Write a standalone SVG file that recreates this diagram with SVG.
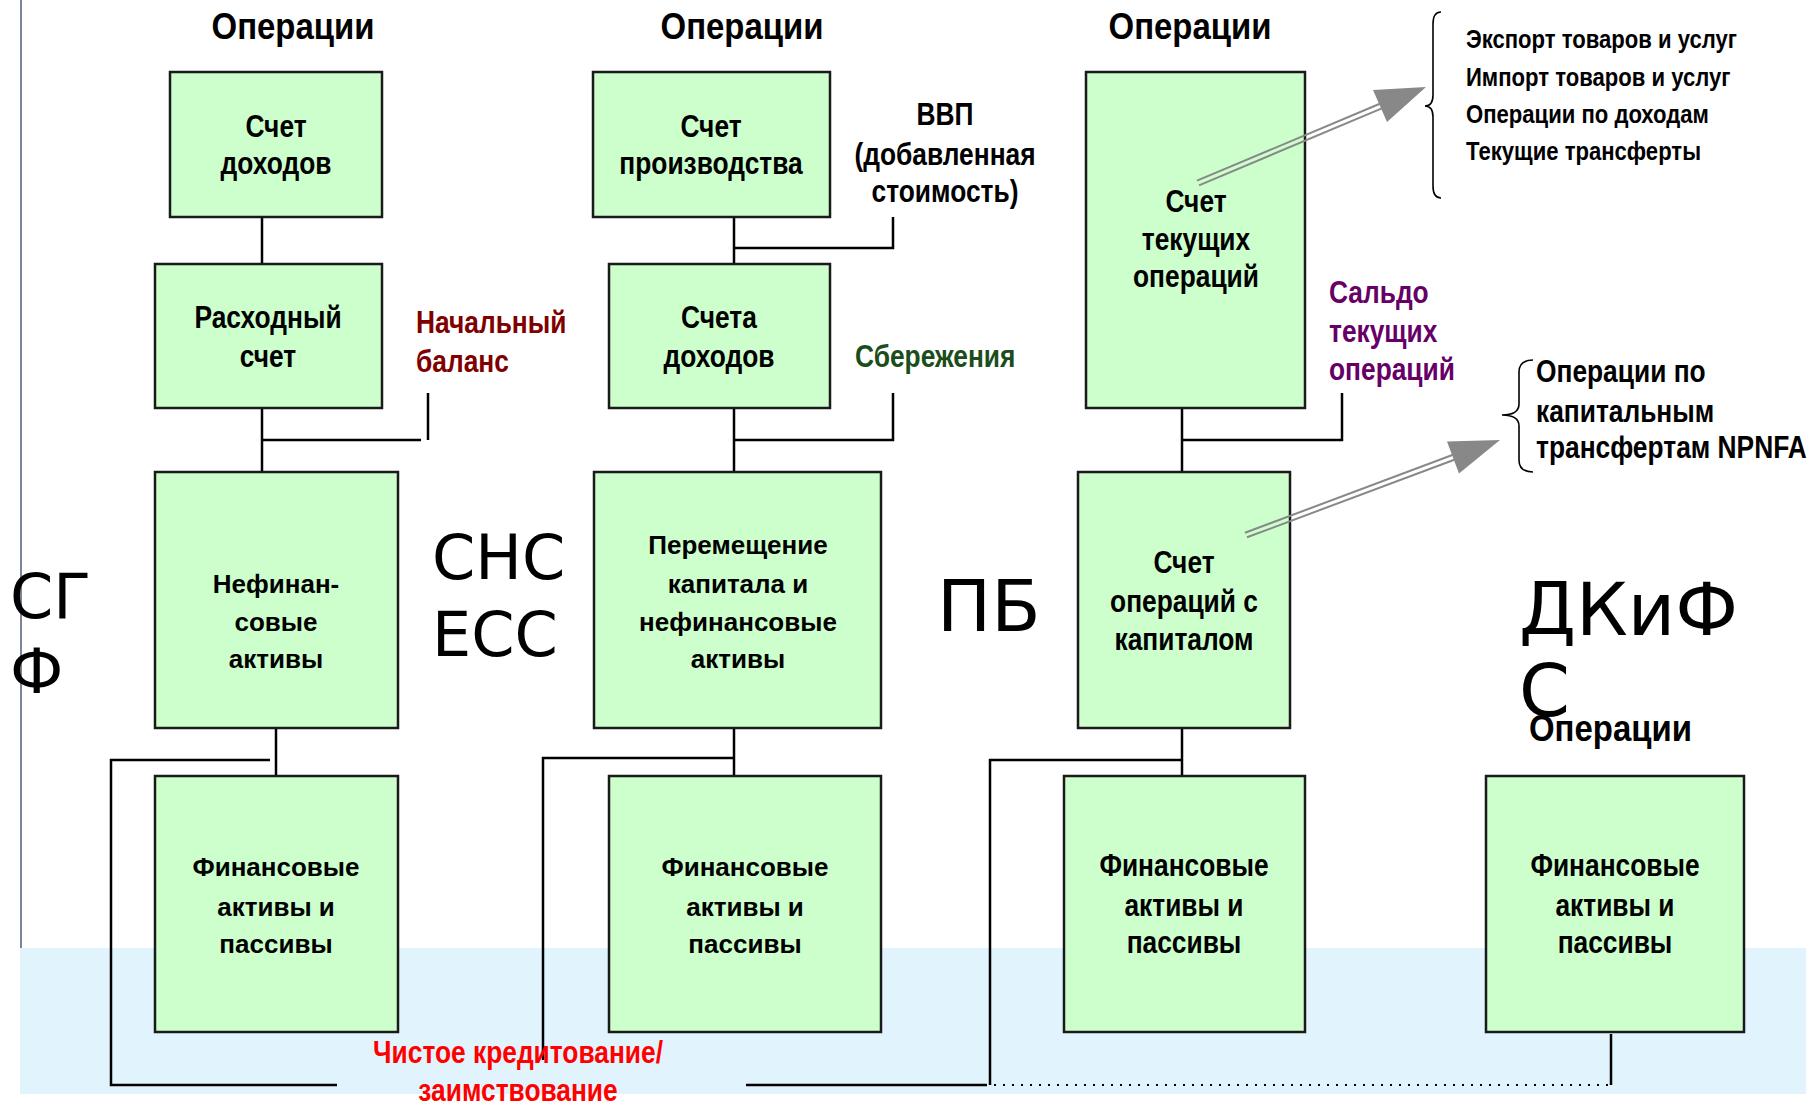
<svg xmlns="http://www.w3.org/2000/svg" width="1806" height="1102" viewBox="0 0 1806 1102">
<style>
.box{fill:#ccffcc;stroke:#1a1a1a;stroke-width:2.5}
.ln{fill:none;stroke:#000;stroke-width:2.5}
.dot{fill:none;stroke:#000;stroke-width:2;stroke-dasharray:2 7}
.n{font-family:"Liberation Sans",Arial,sans-serif;font-weight:bold}
.b{font-family:"Liberation Sans",Arial,sans-serif;font-weight:bold}
.big{font-family:"DejaVu Sans",Verdana,sans-serif}
.c{text-anchor:middle}
.title{font-size:37px}
.bt{font-size:31px}
.rt{font-size:26px}
.lab{font-size:31px}
.lst{font-size:26px}
.shaft{stroke:#888;stroke-width:2;fill:none}
.head{fill:#888}
.brace{fill:none;stroke:#000;stroke-width:1.6}
</style>
<rect x="0" y="0" width="1806" height="1102" fill="#fff"/>
<rect x="20" y="948" width="1786" height="146" fill="#e1f3fd"/>
<line x1="21" y1="0" x2="21" y2="948" stroke="#7a8596" stroke-width="2"/>

<g id="titles" class="n title">
<text class="c" transform="translate(293 39) scale(.89 1)">Операции</text>
<text class="c" transform="translate(742 39) scale(.89 1)">Операции</text>
<text class="c" transform="translate(1190 39) scale(.89 1)">Операции</text>
<text transform="translate(1529 741) scale(.89 1)">Операции</text>
</g>

<g id="system-labels" class="big">
<text x="10" y="618" font-size="62">СГ</text>
<text x="10" y="693" font-size="62">Ф</text>
<text x="432" y="579" font-size="62">СНС</text>
<text x="432" y="656" font-size="62">ЕСС</text>
<text x="937" y="631" font-size="72">ПБ</text>
<text x="1519" y="635" font-size="73">ДКиФ</text>
<text x="1519" y="716" font-size="73">С</text>
</g>

<g id="connectors">
<path class="ln" d="M262,217V264 M262,408V472 M262,440H421 M428,393V440 M276,728V776 M270,760H111V1085H337"/>
<path class="ln" d="M734,217V264 M893,217V248H734 M734,408V472 M734,440H893V393 M734,728V776 M734,758H543V1060 M746,1085H987"/>
<path class="ln" d="M1182,408V472 M1182,440H1342V393 M1182,728V776 M1182,760H990V1085 M1611,1034V1085"/>
<path class="dot" d="M994,1085H1608"/>
</g>

<g id="sgf-income"><rect class="box" x="170" y="72" width="212" height="145"/>
<text class="n bt c" transform="translate(276 137) scale(.85 1)">Счет</text><text class="n bt c" transform="translate(276 174) scale(.85 1)">доходов</text></g>
<g id="sgf-expense"><rect class="box" x="155" y="264" width="227" height="144"/>
<text class="n bt c" transform="translate(268 328) scale(.85 1)">Расходный</text><text class="n bt c" transform="translate(268 367) scale(.85 1)">счет</text></g>
<g id="sgf-nonfin"><rect class="box" x="155" y="472" width="243" height="256"/>
<text class="b rt c" x="276" y="593">Нефинан-</text><text class="b rt c" x="276" y="631">совые</text><text class="b rt c" x="276" y="668">активы</text></g>
<g id="sgf-fin"><rect class="box" x="155" y="776" width="243" height="256"/>
<text class="b rt c" x="276" y="876">Финансовые</text><text class="b rt c" x="276" y="916">активы и</text><text class="b rt c" x="276" y="953">пассивы</text></g>

<g id="sna-production"><rect class="box" x="593" y="72" width="237" height="145"/>
<text class="n bt c" transform="translate(711 137) scale(.85 1)">Счет</text><text class="n bt c" transform="translate(711 174) scale(.85 1)">производства</text></g>
<g id="sna-income"><rect class="box" x="609" y="264" width="221" height="144"/>
<text class="n bt c" transform="translate(719 328) scale(.85 1)">Счета</text><text class="n bt c" transform="translate(719 367) scale(.85 1)">доходов</text></g>
<g id="sna-capital"><rect class="box" x="594" y="472" width="287" height="256"/>
<text class="b rt c" x="738" y="554">Перемещение</text><text class="b rt c" x="738" y="593">капитала и</text><text class="b rt c" x="738" y="631">нефинансовые</text><text class="b rt c" x="738" y="668">активы</text></g>
<g id="sna-fin"><rect class="box" x="609" y="776" width="272" height="256"/>
<text class="b rt c" x="745" y="876">Финансовые</text><text class="b rt c" x="745" y="916">активы и</text><text class="b rt c" x="745" y="953">пассивы</text></g>

<g id="bop-current"><rect class="box" x="1086" y="72" width="219" height="336"/>
<text class="n bt c" transform="translate(1196 212) scale(.85 1)">Счет</text><text class="n bt c" transform="translate(1196 250) scale(.85 1)">текущих</text><text class="n bt c" transform="translate(1196 287) scale(.85 1)">операций</text></g>
<g id="bop-capital"><rect class="box" x="1078" y="472" width="212" height="256"/>
<text class="n bt c" transform="translate(1184 573) scale(.85 1)">Счет</text><text class="n bt c" transform="translate(1184 612) scale(.85 1)">операций с</text><text class="n bt c" transform="translate(1184 650) scale(.85 1)">капиталом</text></g>
<g id="bop-fin"><rect class="box" x="1064" y="776" width="241" height="256"/>
<text class="n bt c" transform="translate(1184 876) scale(.85 1)">Финансовые</text><text class="n bt c" transform="translate(1184 916) scale(.85 1)">активы и</text><text class="n bt c" transform="translate(1184 953) scale(.85 1)">пассивы</text></g>

<g id="mfs-fin"><rect class="box" x="1486" y="776" width="258" height="256"/>
<text class="n bt c" transform="translate(1615 876) scale(.85 1)">Финансовые</text><text class="n bt c" transform="translate(1615 916) scale(.85 1)">активы и</text><text class="n bt c" transform="translate(1615 953) scale(.85 1)">пассивы</text></g>

<g id="labels" class="n lab">
<text transform="translate(416 333) scale(.85 1)" fill="#800000">Начальный</text>
<text transform="translate(416 372) scale(.85 1)" fill="#800000">баланс</text>
<text class="c" transform="translate(945 125) scale(.85 1)">ВВП</text>
<text class="c" transform="translate(945 165) scale(.85 1)">(добавленная</text>
<text class="c" transform="translate(945 202) scale(.85 1)">стоимость)</text>
<text transform="translate(855 367) scale(.85 1)" fill="#1b4d1b">Сбережения</text>
<text transform="translate(1329 303) scale(.85 1)" fill="#660066">Сальдо</text>
<text transform="translate(1329 342) scale(.85 1)" fill="#660066">текущих</text>
<text transform="translate(1329 380) scale(.85 1)" fill="#660066">операций</text>
<text transform="translate(1536 382) scale(.85 1)">Операции по</text>
<text transform="translate(1536 422) scale(.85 1)">капитальным</text>
<text transform="translate(1536 458) scale(.85 1)">трансфертам NPNFA</text>
<text class="c" transform="translate(518 1063) scale(.85 1)" fill="#ff0000">Чистое кредитование/</text>
<text class="c" transform="translate(518 1101) scale(.85 1)" fill="#ff0000">заимствование</text>
</g>

<g id="current-items" class="n lst">
<text transform="translate(1466 48) scale(.85 1)">Экспорт товаров и услуг</text>
<text transform="translate(1466 86) scale(.85 1)">Импорт товаров и услуг</text>
<text transform="translate(1466 123) scale(.85 1)">Операции по доходам</text>
<text transform="translate(1466 160) scale(.85 1)">Текущие трансферты</text>
</g>

<g id="braces">
<path class="brace" d="M1441,12 Q1433,12 1433,24 L1433,95 Q1433,106 1425,106 Q1433,106 1433,117 L1433,186 Q1433,198 1441,198"/>
<path class="brace" d="M1533,360 Q1519,360 1519,372 L1519,404 Q1519,415 1502,415 Q1519,415 1519,426 L1519,460 Q1519,472 1533,472"/>
</g>

<g id="arrows">
<path class="shaft" d="M1199,185.3L1386,106.6 M1197,180.7L1384,102"/>
<polygon class="head" points="1426,87 1373,90 1387,122"/>
<path class="shaft" d="M1247,537.3L1459,458 M1245,532.7L1457,453.3"/>
<polygon class="head" points="1500,440 1447,441.6 1459,473.4"/>
</g>
</svg>
